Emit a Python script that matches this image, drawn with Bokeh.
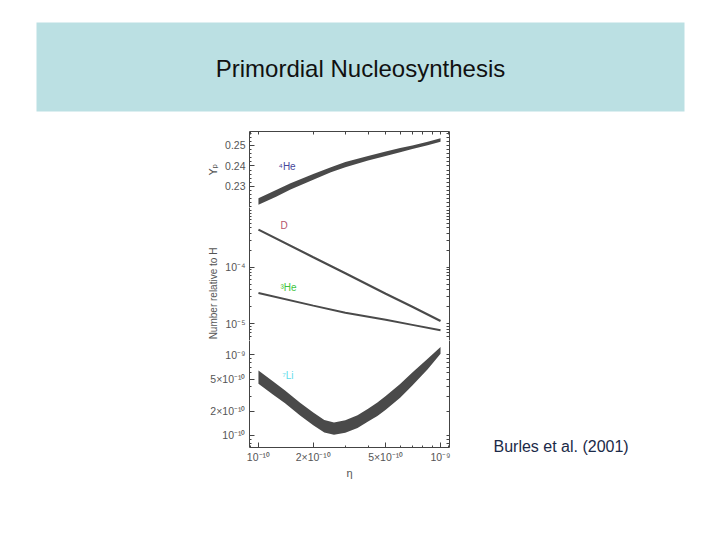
import math
from bokeh.plotting import figure
from bokeh.layouts import column, row
from bokeh.models import (Range1d, LinearAxis, LogAxis, FixedTicker, Spacer)
from bokeh.embed import file_html
from bokeh.resources import INLINE
from bokeh.core.properties import value

# ---------------- data ----------------
TITLE = "Primordial Nucleosynthesis"
CITATION = "Burles et al. (2001)"
YLABEL_TOP = "Y\u209a"
YLABEL_LOW = "Number relative to H"
XLABEL = "\u03b7"

# 4He mass fraction band
eta_he4 = [1.0e-10, 1.25e-10, 1.5e-10, 2.0e-10, 2.5e-10, 3.0e-10, 4.0e-10,
           5.0e-10, 6.0e-10, 7.0e-10, 8.5e-10, 1.0e-9]
yp_low = [0.2210, 0.2250, 0.2285, 0.2333, 0.2369, 0.2394, 0.2426,
          0.2449, 0.2467, 0.2482, 0.2501, 0.2518]
yp_high = [0.2242, 0.2282, 0.2315, 0.2360, 0.2394, 0.2419, 0.2449,
           0.2470, 0.2487, 0.2500, 0.2518, 0.2535]

# D/H and 3He/H
eta_dhe3 = [1.0e-10, 2.0e-10, 3.0e-10, 5.0e-10, 7.0e-10, 1.0e-9]
d_h = [4.6e-4, 1.5e-4, 7.8e-5, 3.4e-5, 2.0e-5, 1.12e-5]
he3_h = [3.5e-5, 2.1e-5, 1.57e-5, 1.18e-5, 9.6e-6, 7.7e-6]

# 7Li/H band
eta_li = [1.0e-10, 1.2e-10, 1.4e-10, 1.7e-10, 2.0e-10, 2.3e-10, 2.6e-10, 3.0e-10,
          3.5e-10, 4.0e-10, 4.5e-10, 5.0e-10, 6.0e-10, 7.0e-10, 8.5e-10, 1.0e-9]
li_high = [6.38e-10, 4.68e-10, 3.61e-10, 2.53e-10, 1.92e-10, 1.55e-10, 1.45e-10, 1.54e-10,
           1.78e-10, 2.15e-10, 2.56e-10, 3.08e-10, 4.34e-10, 6.01e-10, 8.94e-10, 1.245e-9]
li_low = [4.37e-10, 3.22e-10, 2.50e-10, 1.76e-10, 1.34e-10, 1.09e-10, 1.02e-10, 1.08e-10,
          1.24e-10, 1.49e-10, 1.74e-10, 2.08e-10, 2.94e-10, 4.16e-10, 6.63e-10, 1.025e-9]

# ticks
eta_ticks = [1e-10, 2e-10, 5e-10, 1e-9]
eta_tick_labels = ["10\u207b\u00b9\u2070", "2\u00d710\u207b\u00b9\u2070", "5\u00d710\u207b\u00b9\u2070", "10\u207b\u2079"]
eta_minor = [8e-11, 9e-11, 3e-10, 4e-10, 6e-10, 7e-10, 8e-10, 9e-10, 1.1e-9]
yp_ticks = [0.23, 0.24, 0.25]
yp_tick_labels = ["0.23", "0.24", "0.25"]
yp_minor = [0.220, 0.222, 0.224, 0.226, 0.228, 0.232, 0.234, 0.236, 0.238,
            0.242, 0.244, 0.246, 0.248, 0.252, 0.254, 0.256]
dh_ticks = [1e-5, 1e-4]
dh_tick_labels = ["10\u207b\u2075", "10\u207b\u2074"]
dh_minor = [6e-6, 7e-6, 8e-6, 9e-6, 2e-5, 3e-5, 4e-5, 5e-5, 6e-5, 7e-5, 8e-5, 9e-5,
            2e-4, 3e-4, 4e-4, 5e-4, 6e-4, 7e-4, 8e-4, 9e-4, 1e-3]
li_ticks = [1e-10, 2e-10, 5e-10, 1e-9]
li_tick_labels = ["10\u207b\u00b9\u2070", "2\u00d710\u207b\u00b9\u2070", "5\u00d710\u207b\u00b9\u2070", "10\u207b\u2079"]
li_minor = [8e-11, 9e-11, 3e-10, 4e-10, 6e-10, 7e-10, 8e-10, 9e-10]

FONT = "Liberation Sans"
INK = "#4a4a4a"
AXC = "#444444"
LBL = "#555555"

TOP_H = 125
ROW_H = 357
LAB_W = 20


def blank(w, h, xr, yr):
    p = figure(width=w, height=h, x_range=xr, y_range=yr,
               x_axis_location=None, y_axis_location=None,
               output_backend="svg", toolbar_location=None, min_border=0)
    p.outline_line_color = None
    p.grid.visible = False
    return p


# ---------------- title ----------------
tp = blank(712, TOP_H, Range1d(0, 712), Range1d(0, TOP_H))
tp.quad(left=[36], right=[684], top=[TOP_H - 22], bottom=[TOP_H - 111],
        fill_color="#bbe0e3", line_color=None)
tp.text(x=[360], y=[TOP_H - 68], text=[TITLE], text_align="center",
        text_baseline="middle", text_font=value(FONT), text_font_size="24px",
        text_color="#111111")

# ---------------- citation column ----------------
cp = blank(253, ROW_H, Range1d(0, 253), Range1d(0, ROW_H))
cp.text(x=[34], y=[ROW_H - 321], text=[CITATION], text_align="left",
        text_baseline="middle", text_font=value(FONT), text_font_size="16px",
        text_color="#1b2a48")


# ---------------- panels ----------------
def style_axis(ax):
    ax.axis_line_color = AXC
    ax.axis_line_width = 1
    ax.major_tick_in = 5
    ax.major_tick_out = 0
    ax.minor_tick_in = 2
    ax.minor_tick_out = 0
    ax.major_tick_line_color = AXC
    ax.minor_tick_line_color = AXC
    ax.major_label_text_font = FONT
    ax.major_label_text_font_size = "10.5px"
    ax.major_label_text_color = LBL
    ax.major_label_standoff = 4


def bare_axis(cls, majors, minors):
    # axis without labels: all ticks given as minor ticks (no label space)
    ax = cls(ticker=FixedTicker(ticks=[], minor_ticks=list(majors) + list(minors)))
    ax.axis_line_color = AXC
    ax.axis_line_width = 1
    ax.major_tick_in = 0
    ax.major_tick_out = 0
    ax.minor_tick_in = 3
    ax.minor_tick_out = 0
    ax.minor_tick_line_color = AXC
    ax.major_label_standoff = 0
    return ax


xr = Range1d(8.93e-11, 1.12e-9)


def make_panel(h, yr, ytype, top, bottom, xloc, left=49):
    p = figure(width=left + 210, height=h, x_range=xr, y_range=yr,
               x_axis_type="log", y_axis_type=ytype,
               x_axis_location=xloc, y_axis_location="left",
               min_border_left=left, min_border_right=10,
               min_border_top=top, min_border_bottom=bottom,
               output_backend="svg", toolbar_location=None)
    p.outline_line_color = None
    p.grid.visible = False
    return p


# He-4 panel
p1 = make_panel(82, Range1d(0.2197, 0.2568), "linear", 6, 0, None)
p1.varea(x=eta_he4, y1=yp_low, y2=yp_high, fill_color=INK)
for ax in p1.yaxis:
    ax.ticker = FixedTicker(ticks=yp_ticks, minor_ticks=yp_minor)
    ax.major_label_overrides = dict(zip(yp_ticks, yp_tick_labels))
    style_axis(ax)
    ax.axis_label = YLABEL_TOP
    ax.axis_label_text_font = "DejaVu Sans"
    ax.axis_label_text_font_style = "normal"
    ax.axis_label_text_font_size = "11px"
    ax.axis_label_text_color = LBL
    ax.axis_label_standoff = 2
p1.add_layout(bare_axis(LinearAxis, yp_ticks, yp_minor), "right")
p1.add_layout(bare_axis(LogAxis, eta_ticks, eta_minor), "above")
p1.text(x=[1.29e-10], y=[0.2395], text=["\u2074He"], text_baseline="middle",
        text_font=value(FONT), text_font_size="10px", text_color="#47479a")

# D / 3He panel (with a narrow label column on its left)
P2_H = 133
p2 = make_panel(P2_H, Range1d(5.09e-6, 1.13e-3), "log", 0, 0, None, left=49 - LAB_W)
p2.line(eta_dhe3, d_h, line_color=INK, line_width=2.2)
p2.line(eta_dhe3, he3_h, line_color=INK, line_width=2.0)
for ax in p2.yaxis:
    ax.ticker = FixedTicker(ticks=dh_ticks, minor_ticks=dh_minor)
    ax.major_label_overrides = dict(zip(dh_ticks, dh_tick_labels))
    style_axis(ax)
p2.add_layout(bare_axis(LogAxis, dh_ticks, dh_minor), "right")
p2.text(x=[1.32e-10], y=[5.4e-4], text=["D"], text_baseline="middle",
        text_font=value(FONT), text_font_size="10px", text_color="#b5546a")
p2.text(x=[1.32e-10], y=[4.4e-5], text=["\u00b3He"], text_baseline="middle",
        text_font=value(FONT), text_font_size="10px", text_color="#3ec43e")

lab = blank(LAB_W, P2_H, Range1d(0, LAB_W), Range1d(0, P2_H))
lab.text(x=[13], y=[P2_H - 86], text=[YLABEL_LOW], angle=math.pi / 2,
         text_align="center", text_baseline="middle",
         text_font=value(FONT), text_font_size="10px", text_color=LBL)

# Li-7 panel
p3 = make_panel(142, Range1d(7.1e-11, 1.50e-9), "log", 0, 35, "below")
p3.varea(x=eta_li, y1=li_low, y2=li_high, fill_color=INK)
for ax in p3.yaxis:
    ax.ticker = FixedTicker(ticks=li_ticks, minor_ticks=li_minor)
    ax.major_label_overrides = dict(zip(li_ticks, li_tick_labels))
    style_axis(ax)
p3.add_layout(bare_axis(LogAxis, li_ticks, li_minor), "right")
for ax in p3.xaxis:
    ax.ticker = FixedTicker(ticks=eta_ticks, minor_ticks=eta_minor)
    ax.major_label_overrides = dict(zip(eta_ticks, eta_tick_labels))
    style_axis(ax)
    ax.major_label_standoff = 3
    ax.axis_label = XLABEL
    ax.axis_label_text_font = FONT
    ax.axis_label_text_font_style = "normal"
    ax.axis_label_text_font_size = "11px"
    ax.axis_label_text_color = LBL
    ax.axis_label_standoff = 1
p3.text(x=[1.35e-10], y=[5.5e-10], text=["\u2077Li"], text_baseline="middle",
        text_font=value(FONT), text_font_size="10px", text_color="#5fdcea")

panels = column(p1, row(lab, p2, spacing=0), p3, spacing=0)
body = row(Spacer(width=200, height=ROW_H), panels, cp, spacing=0)
page = column(tp, body, spacing=0)

open("out.html", "w").write(file_html(page, INLINE))
